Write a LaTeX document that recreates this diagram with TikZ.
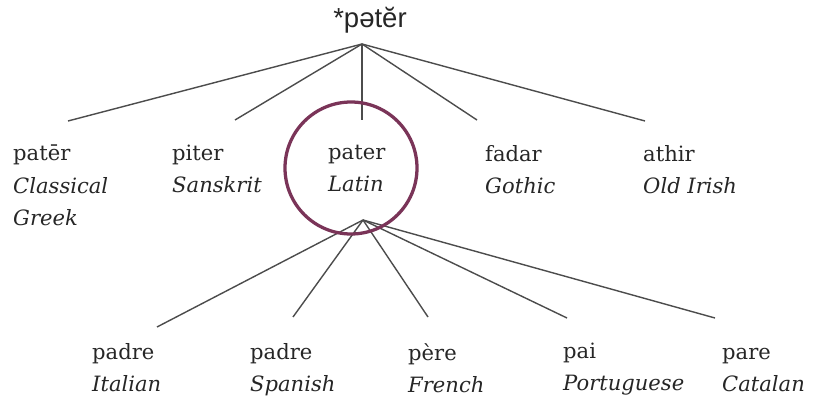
\documentclass[tikz,border=0pt]{standalone}
\usepackage{fontspec}
\setmainfont{DejaVu Serif}
\newfontfamily\rootfont{Liberation Sans}
\definecolor{ringcolor}{RGB}{122,52,88}

\begin{document}
\begin{tikzpicture}[transform shape,
	word/.style={anchor=north west, align=left, inner sep=0pt, text=black!85, font=\fontsize{18}{27.5}\selectfont},
	branch/.style={line width=1.2pt, draw=black!70}]
	% Paths, nodes and wires:
	\useasboundingbox (0, 0) rectangle (24.45, 12);
	\node[anchor=base, inner sep=0pt, text=black!85, font=\rootfont\fontsize{23.5}{28}\selectfont] (pie) at (11.1, 11.16){*pətĕr};
	\coordinate (pie-foot) at (10.86, 10.68);
	% first row
	\node[word] (greek) at (0.39, 7.65){patēr\\\textit{Classical}\\\textit{Greek}};
	\node[word] (sanskrit) at (5.16, 7.65){piter\\\textit{Sanskrit}};
	\node[word] (latin) at (9.84, 7.65){pater\\\textit{Latin}};
	\node[word] (gothic) at (14.55, 7.65){fadar\\\textit{Gothic}};
	\node[word] (irish) at (19.29, 7.65){athir\\\textit{Old Irish}};
	\coordinate (greek-top) at (2.04, 8.37);
	\coordinate (sanskrit-top) at (7.05, 8.4);
	\coordinate (latin-top) at (10.86, 8.4);
	\coordinate (gothic-top) at (14.31, 8.4);
	\coordinate (irish-top) at (19.35, 8.37);
	\foreach \lang in {greek, sanskrit, latin, gothic, irish}
		\draw[branch] (pie-foot) -- (\lang-top);
	% second row
	\coordinate (latin-foot) at (10.89, 5.4);
	\node[word] (italian) at (2.76, 1.71){padre\\\textit{Italian}};
	\node[word] (spanish) at (7.5, 1.71){padre\\\textit{Spanish}};
	\node[word] (french) at (12.24, 1.71){père\\\textit{French}};
	\node[word] (portuguese) at (16.89, 1.71){pai\\\textit{Portuguese}};
	\node[word] (catalan) at (21.66, 1.71){\vphantom{d}pare\\\textit{Catalan}};
	\coordinate (italian-top) at (4.71, 2.19);
	\coordinate (spanish-top) at (8.79, 2.49);
	\coordinate (french-top) at (12.84, 2.49);
	\coordinate (portuguese-top) at (17.01, 2.46);
	\coordinate (catalan-top) at (21.45, 2.46);
	\foreach \lang in {italian, spanish, french, portuguese, catalan}
		\draw[branch] (latin-foot) -- (\lang-top);
	% highlight
	\draw[ringcolor, line width=2.8pt] (10.53, 6.96) circle (1.98);
\end{tikzpicture}
\end{document}
